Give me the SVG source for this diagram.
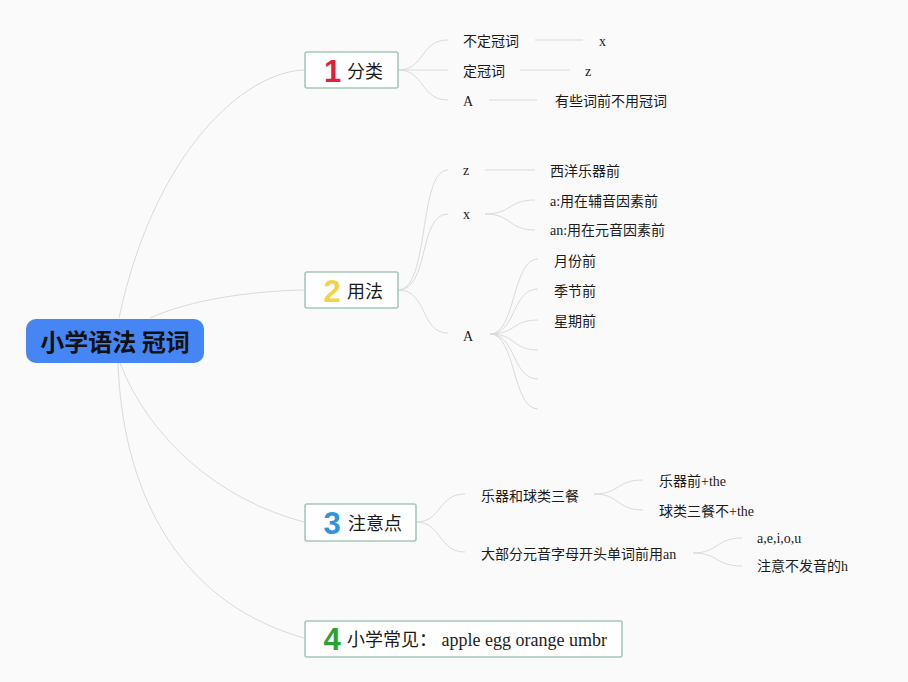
<svg xmlns="http://www.w3.org/2000/svg" width="908" height="682" viewBox="0 0 908 682">
<style>
.bg{fill:#fafafa}
.c{fill:none;stroke:#dadada;stroke-width:1}
.box{fill:#ffffff;stroke:#a6c8bb;stroke-width:1.6}
.t{font-family:"Liberation Serif","Noto Sans CJK SC",serif;font-size:14px;fill:#1c1c1c}
.lbl{font-family:"Liberation Serif","Noto Sans CJK SC",sans-serif;font-size:18px;fill:#1c1c1c}
.num{font-family:"Liberation Sans","DejaVu Sans",sans-serif;font-size:31px;font-weight:700;text-anchor:middle}
.root-t{font-family:"Noto Sans CJK SC","Noto Sans",sans-serif;font-size:24px;font-weight:700;fill:#111;text-anchor:middle}
</style>
<rect class="bg" x="0" y="0" width="908" height="682"/>
<g id="connectors">
  <path class="c" d="M119,318 C155,150 245,72 304,70"/>
  <path class="c" d="M150,318 C190,300 250,291 304,290"/>
  <path class="c" d="M120,363 C150,440 220,500 304,522"/>
  <path class="c" d="M118,363 C122,480 170,600 304,638"/>
  <path class="c" d="M398,70 C425,70 420,40 448,40"/>
  <path class="c" d="M398,70 C425,70 420,70 448,70"/>
  <path class="c" d="M398,70 C425,70 420,100 448,100"/>
  <path class="c" d="M535,40 L583,40"/>
  <path class="c" d="M520,70 L570,70"/>
  <path class="c" d="M489,100 L537,100"/>
  <path class="c" d="M398,290 C430,290 418,170 448,170"/>
  <path class="c" d="M398,290 C430,290 418,214 448,214"/>
  <path class="c" d="M398,290 C428,290 420,333 448,333"/>
  <path class="c" d="M485,170 L535,170"/>
  <path class="c" d="M485,214 C512,214 508,200 535,200"/>
  <path class="c" d="M485,214 C512,214 508,230 535,230"/>
  <path class="c" d="M490,334 C516,334 512,259 538,259"/>
  <path class="c" d="M490,334 C516,334 512,289 538,289"/>
  <path class="c" d="M490,334 C516,334 512,320 538,320"/>
  <path class="c" d="M490,334 C516,334 512,350 538,350"/>
  <path class="c" d="M490,334 C516,334 512,379 538,379"/>
  <path class="c" d="M490,334 C516,334 512,409 538,409"/>
  <path class="c" d="M416,522 C442,522 438,494 465,494"/>
  <path class="c" d="M416,522 C442,522 438,552 465,552"/>
  <path class="c" d="M594,494 C620,494 616,480 643,480"/>
  <path class="c" d="M594,494 C620,494 616,510 643,510"/>
  <path class="c" d="M693,553 C718,553 716,538 742,538"/>
  <path class="c" d="M693,553 C718,553 716,566 742,566"/>
</g>
<g id="root">
  <rect x="26" y="319" width="178" height="44" rx="10" fill="#4586f4"/>
  <text class="root-t" x="115" y="351">小学语法 冠词</text>
</g>
<g id="n1">
  <rect class="box" x="305" y="52" width="93" height="36" rx="2"/>
  <text class="num" x="332.5" y="82" fill="#e0213c">1</text>
  <text class="lbl" x="347" y="77.5">分类</text>
</g>
<g id="n1a"><text class="t" x="463" y="46">不定冠词</text></g>
<g id="n1a1"><text class="t" x="599" y="46">x</text></g>
<g id="n1b"><text class="t" x="463" y="76">定冠词</text></g>
<g id="n1b1"><text class="t" x="585" y="76">z</text></g>
<g id="n1c"><text class="t" x="463" y="106">A</text></g>
<g id="n1c1"><text class="t" x="555" y="106">有些词前不用冠词</text></g>
<g id="n2">
  <rect class="box" x="305" y="272" width="93" height="36" rx="2"/>
  <text class="num" x="332" y="302" fill="#f2d34c">2</text>
  <text class="lbl" x="347" y="297.5">用法</text>
</g>
<g id="n2a"><text class="t" x="463" y="175">z</text></g>
<g id="n2a1"><text class="t" x="550" y="176">西洋乐器前</text></g>
<g id="n2b"><text class="t" x="463" y="219">x</text></g>
<g id="n2b1"><text class="t" x="550" y="206">a:用在辅音因素前</text></g>
<g id="n2b2"><text class="t" x="550" y="235">an:用在元音因素前</text></g>
<g id="n2c"><text class="t" x="463" y="341">A</text></g>
<g id="n2c1"><text class="t" x="554" y="266">月份前</text></g>
<g id="n2c2"><text class="t" x="554" y="296">季节前</text></g>
<g id="n2c3"><text class="t" x="554" y="326">星期前</text></g>
<g id="n3">
  <rect class="box" x="305" y="504" width="111" height="37" rx="2"/>
  <text class="num" x="332" y="533.5" fill="#2e95dc">3</text>
  <text class="lbl" x="348" y="529.5">注意点</text>
</g>
<g id="n3a"><text class="t" x="481" y="500.5">乐器和球类三餐</text></g>
<g id="n3a1"><text class="t" x="659" y="486">乐器前+the</text></g>
<g id="n3a2"><text class="t" x="659" y="516">球类三餐不+the</text></g>
<g id="n3b"><text class="t" x="481" y="558.5">大部分元音字母开头单词前用an</text></g>
<g id="n3b1"><text class="t" x="757" y="543">a,e,i,o,u</text></g>
<g id="n3b2"><text class="t" x="757" y="571">注意不发音的h</text></g>
<g id="n4">
  <rect class="box" x="305" y="621" width="317" height="36" rx="2"/>
  <text class="num" x="332" y="650" fill="#2aa233">4</text>
  <text class="lbl" x="347" y="645.5">小学常见： apple egg orange umbr</text>
</g>
</svg>
